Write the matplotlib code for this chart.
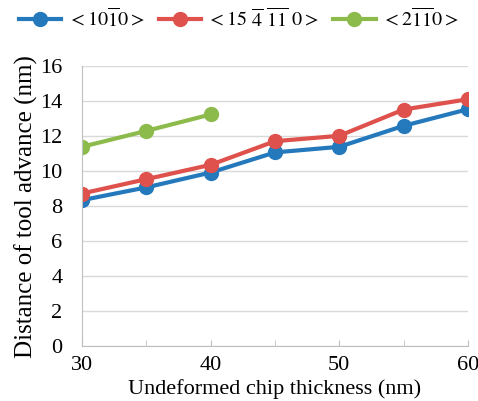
import matplotlib.pyplot as plt
import numpy as np

plt.rcParams['font.family'] = 'Liberation Serif'
plt.rcParams['mathtext.fontset'] = 'stix'

# données
thickness = [30, 35, 40, 45, 50, 55, 60]
dist_1010 = [8.34, 9.07, 9.92, 11.07, 11.39, 12.59, 13.54]
dist_15 = [8.72, 9.54, 10.36, 11.71, 12.02, 13.52, 14.11]
thickness_2110 = [30, 35, 40]
dist_2110 = [11.39, 12.3, 13.24]

labels = [r'$<10\overline{1}0>$',
          r'$<15\ \overline{4}\ \overline{11}\ 0>$',
          r'$<2\overline{1}\overline{1}0>$']

fig = plt.figure(figsize=(4.78, 4.01), dpi=100)
ax = fig.add_axes([0.1715, 0.137, 0.8075, 0.698])

ax.plot(thickness, dist_1010, '-o', color='#2479BD', lw=3, ms=10, label=labels[0])
ax.plot(thickness, dist_15, '-o', color='#DF514C', lw=3, ms=10, label=labels[1])
ax.plot(thickness_2110, dist_2110, '-o', color='#8CBB4C', lw=3, ms=10, label=labels[2])

ax.set_xlim(30, 60)
ax.set_ylim(0, 16)
ax.set_xticks([30, 40, 50, 60])
ax.set_xticks([35, 45, 55], minor=True)
ax.set_yticks(np.arange(0, 17, 2))
ax.grid(axis='y', color='#d9d9d9', lw=1)
ax.set_axisbelow(True)
for s in ['top', 'right']:
    ax.spines[s].set_visible(False)
for s in ['left', 'bottom']:
    ax.spines[s].set_color('#bfbfbf')
ax.tick_params(axis='y', length=0, labelsize=16, pad=14)
ax.tick_params(axis='x', which='both', direction='in', length=4, color='#bfbfbf', labelsize=16, pad=7)

ax.set_xlabel('Undeformed chip thickness (nm)', fontsize=16, labelpad=3)
ax.set_ylabel('Distance of tool advance (nm)', fontsize=18, labelpad=2)

fig.legend(loc='upper center', bbox_to_anchor=(0.5, 1.025), ncol=3, frameon=False,
           fontsize=14.5, handlelength=2.1, columnspacing=0.7, handletextpad=0.3)

fig.savefig('out.png', dpi=100)
